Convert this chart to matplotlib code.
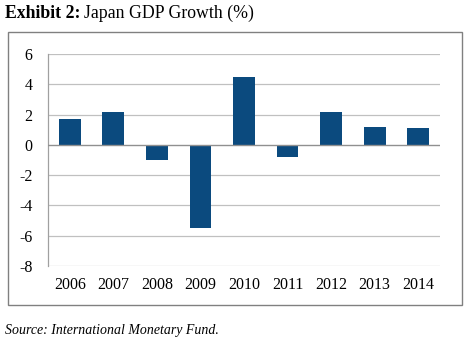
import matplotlib.pyplot as plt
from matplotlib.patches import Rectangle

years = ["2006", "2007", "2008", "2009", "2010", "2011", "2012", "2013", "2014"]
growth = [1.7, 2.2, -1.0, -5.5, 4.5, -0.8, 2.2, 1.2, 1.1]
yticks = [6, 4, 2, 0, -2, -4, -6, -8]

BAR_COLOR = "#0b4a7e"
GRID_COLOR = "#c0c0c0"

plt.rcParams['font.family'] = ['Liberation Serif', 'DejaVu Serif']

fig = plt.figure(figsize=(4.71, 3.44), dpi=100)

# outer frame around the chart
fig.patches.append(Rectangle((8 / 471, 1 - 305 / 344), 454 / 471, 273 / 344,
                             transform=fig.transFigure, fill=False,
                             edgecolor="#808080", linewidth=1.0))

ax = fig.add_axes([48 / 471, 1 - 266 / 344, 392 / 471, 212 / 344])
x = range(len(years))
ax.bar(x, growth, width=0.5, color=BAR_COLOR, zorder=3)

ax.set_ylim(-8, 6)
ax.set_xlim(-0.5, len(years) - 0.5)
ax.set_yticks(yticks)
ax.set_yticklabels([str(t) for t in yticks])
ax.set_xticks(list(x))
ax.set_xticklabels(years)

for t in yticks:
    if t == 0:
        ax.axhline(0, color="#909090", linewidth=1.0, zorder=4)
    else:
        ax.axhline(t, color=GRID_COLOR, linewidth=0.9, zorder=1)

for side in ["top", "right", "bottom"]:
    ax.spines[side].set_visible(False)
ax.spines["left"].set_color("#a0a0a0")
ax.spines["left"].set_linewidth(0.9)
ax.tick_params(axis="both", length=0, labelsize=11.5)
ax.tick_params(axis="y", pad=11)
ax.tick_params(axis="x", pad=8)

# title: bold label followed by normal text
t1 = fig.text(5 / 471, 1 - 18 / 344, "Exhibit 2:", fontsize=12.8, fontweight="bold",
              ha="left", va="baseline")
fig.canvas.draw()
bb = t1.get_window_extent()
fig.text((bb.x1 + 4) / 471, 1 - 18 / 344, "Japan GDP Growth (%)", fontsize=12.8,
         ha="left", va="baseline")
fig.text(5 / 471, 1 - 334 / 344, "Source: International Monetary Fund.",
         fontsize=10, style="italic", ha="left", va="baseline")

fig.savefig("out.png", dpi=100)
